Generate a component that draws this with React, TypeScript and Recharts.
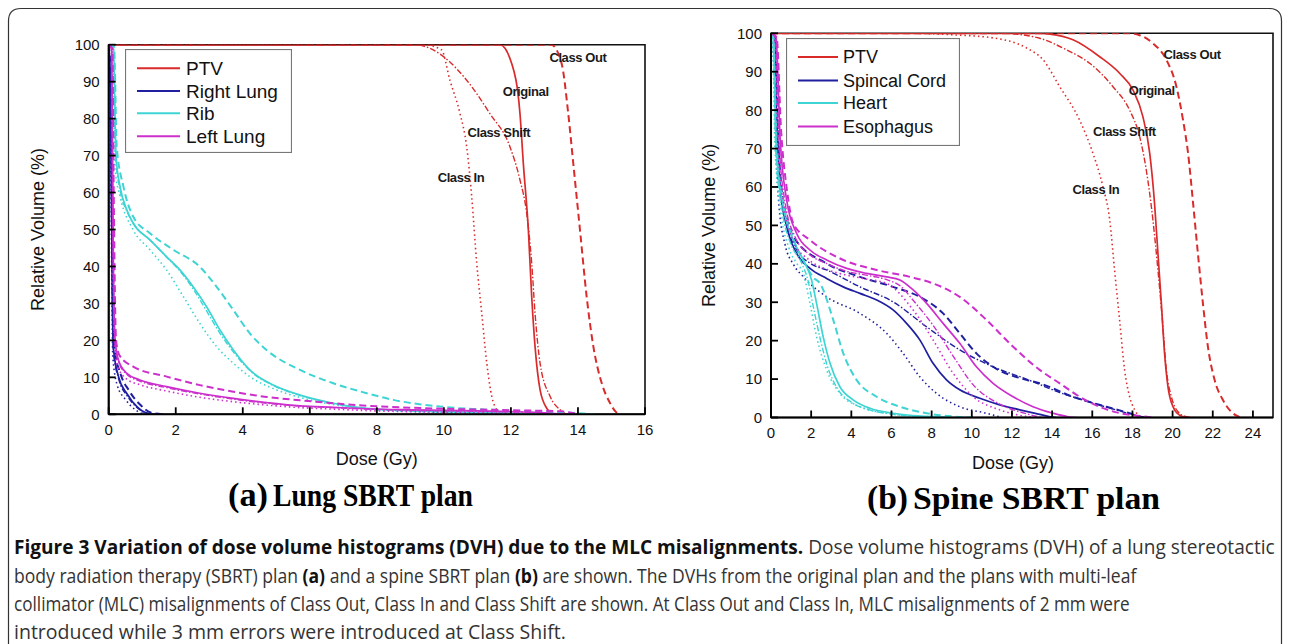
import React, { useLayoutEffect, useEffect, useRef, useState } from "react";
import { LineChart, Line, XAxis, YAxis, ReferenceArea, ReferenceDot, Legend } from "recharts";

type Pt = [number, number];

// ---------- (a) Lung SBRT plan: [dose Gy, relative volume %] ----------
const LUNG_PTV_ORIG: Pt[] = [[0, 100], [11.67, 100], [12.02, 95], [12.27, 81.4], [12.37, 67.9], [12.52, 49.9], [12.62, 31.8], [12.72, 18.3], [12.87, 6.6], [13.07, 1.6], [13.25, 0]];
const LUNG_PTV_OUT: Pt[] = [[0, 100], [13.2, 100], [13.51, 95], [13.71, 81.4], [13.86, 67.9], [14.06, 49.9], [14.26, 31.8], [14.46, 18.3], [14.71, 8.4], [14.96, 3], [15.15, 0.5], [15.3, 0]];
const LUNG_PTV_IN: Pt[] = [[0, 100], [9.4, 100], [9.93, 98.6], [10.18, 90.4], [10.48, 81.4], [10.68, 72.4], [10.83, 58.9], [10.98, 40.9], [11.13, 27.3], [11.28, 13.8], [11.43, 4.8], [11.58, 1.2], [11.75, 0]];
const LUNG_PTV_SHIFT: Pt[] = [[0, 100], [9.1, 100], [9.59, 99], [10.68, 90.4], [11.37, 81.4], [11.97, 72.4], [12.27, 63.4], [12.47, 54.4], [12.62, 40.9], [12.72, 27.3], [12.87, 13.8], [13.17, 4.8], [13.47, 1.2], [13.65, 0]];

const LUNG_RL_ORIG: Pt[] = [[0, 100], [0.05, 90], [0.08, 60], [0.11, 30], [0.14, 18], [0.3, 10], [0.55, 5.5], [0.85, 2], [1.15, 0.3], [1.4, 0]];
const LUNG_RL_OUT: Pt[] = [[0, 100], [0.07, 90], [0.1, 60], [0.13, 30], [0.17, 18], [0.35, 11], [0.6, 6.5], [0.95, 2.5], [1.25, 0.5], [1.6, 0]];
const LUNG_RL_IN: Pt[] = [[0, 100], [0.04, 90], [0.07, 60], [0.1, 30], [0.12, 16], [0.25, 8], [0.5, 4], [0.8, 1.2], [1.0, 0.2], [1.2, 0]];
const LUNG_RL_SHIFT: Pt[] = [[0, 100], [0.05, 90], [0.08, 60], [0.11, 30], [0.14, 17], [0.3, 9.5], [0.55, 5], [0.85, 1.8], [1.1, 0.3], [1.3, 0]];

const LUNG_RIB_ORIG: Pt[] = [[0, 100], [0.14, 99.5], [0.22, 69.7], [0.34, 61.6], [0.54, 55.3], [0.73, 51.7], [1.23, 47.2], [1.73, 42.6], [2.13, 39.0], [2.52, 34.5], [2.92, 29.1], [3.32, 22.8], [3.72, 17.4], [4.21, 12.0], [4.91, 7.9], [5.71, 5.2], [6.7, 3.0], [7.7, 1.6], [9, 1.0], [11, 0.5], [12.5, 0.2], [13, 0]];
const LUNG_RIB_OUT: Pt[] = [[0, 100], [0.16, 99.5], [0.24, 72.4], [0.44, 61.6], [0.73, 53.5], [1.23, 49.0], [1.93, 44.5], [2.72, 39.9], [3.22, 34.5], [3.72, 28.2], [4.21, 21.9], [4.71, 17.4], [5.71, 12.0], [6.7, 8.4], [7.7, 5.7], [8.49, 3.9], [10, 2.0], [12, 1.0], [14, 0.3], [14.5, 0]];
const LUNG_RIB_IN: Pt[] = [[0, 100], [0.12, 99.5], [0.19, 66.1], [0.34, 58.9], [0.73, 49.9], [1.23, 44.5], [1.73, 39.0], [2.23, 31.8], [2.72, 24.6], [3.22, 18.3], [3.72, 13.8], [4.21, 10.2], [5.01, 6.6], [6.0, 3.9], [7.2, 2.0], [9, 0.8], [11, 0.3], [12, 0]];
const LUNG_RIB_SHIFT: Pt[] = [[0, 100], [0.14, 99.5], [0.2, 70], [0.33, 61], [0.54, 55], [0.75, 51.5], [1.25, 47], [1.75, 42.3], [2.15, 38.5], [2.55, 33.5], [2.95, 27.5], [3.35, 21.5], [3.75, 16.5], [4.25, 11.5], [4.95, 7.6], [5.75, 5], [6.7, 2.9], [7.7, 1.5], [9, 0.9], [11, 0.4], [12.5, 0.1], [13, 0]];

const LUNG_LL_ORIG: Pt[] = [[0, 100], [0.09, 99], [0.12, 60], [0.19, 20.1], [0.29, 14.7], [0.54, 11.1], [0.93, 9.3], [1.73, 7.5], [2.72, 5.7], [3.72, 4.3], [4.71, 3.2], [5.71, 2.3], [6.7, 1.9], [7.7, 1.5], [9, 1.2], [11, 0.9], [12.5, 0.6], [13.7, 0]];
const LUNG_LL_OUT: Pt[] = [[0, 100], [0.11, 99], [0.15, 60], [0.22, 20], [0.32, 16], [0.73, 12.9], [1.73, 10.2], [2.72, 7.9], [3.72, 6.1], [4.71, 4.7], [5.71, 3.8], [6.7, 3.0], [7.7, 2.3], [9, 1.8], [10, 1.5], [12, 1.1], [13.5, 0.8], [14, 0]];
const LUNG_LL_IN: Pt[] = [[0, 100], [0.08, 99], [0.11, 60], [0.17, 20], [0.27, 13], [0.54, 9.5], [0.93, 8], [1.73, 6.3], [2.72, 4.6], [3.72, 3.4], [4.71, 2.5], [5.71, 1.8], [6.7, 1.4], [7.7, 1.0], [9, 0.7], [11, 0.4], [12, 0.2], [12.5, 0]];
const LUNG_LL_SHIFT: Pt[] = [[0, 100], [0.09, 99], [0.12, 60], [0.19, 19.5], [0.29, 14.3], [0.54, 10.8], [0.93, 9.0], [1.73, 7.2], [2.72, 5.5], [3.72, 4.1], [4.71, 3.0], [5.71, 2.2], [6.7, 1.8], [7.7, 1.4], [9, 1.1], [11, 0.8], [12.5, 0.5], [13.5, 0]];

// ---------- (b) Spine SBRT plan ----------
const SPINE_PTV_ORIG: Pt[] = [[0, 100], [13.4, 100], [13.9, 99.8], [15.04, 98.3], [16.37, 93.9], [17.36, 89.6], [18.03, 85.2], [18.52, 78.3], [18.86, 68.8], [19.1, 55.8], [19.27, 42.7], [19.44, 29.7], [19.6, 16.7], [19.77, 8], [20.02, 2.8], [20.35, 0.6], [20.7, 0]];
const SPINE_PTV_OUT: Pt[] = [[0, 100], [17.8, 100], [18.36, 99.5], [19.02, 97.4], [19.69, 93.1], [20.19, 86.1], [20.52, 77.4], [20.77, 68.8], [21.02, 55.8], [21.26, 42.7], [21.51, 29.7], [21.76, 18.4], [22.09, 9.8], [22.5, 4.6], [22.92, 1.5], [23.3, 0.2], [23.5, 0]];
const SPINE_PTV_IN: Pt[] = [[0, 100], [7.2, 100], [9.07, 99.6], [11.06, 98.8], [12.72, 96.2], [13.55, 93.1], [14.38, 86.1], [15.37, 77.4], [16.03, 68.8], [16.53, 60.1], [16.87, 51.4], [17.11, 38.4], [17.36, 25.4], [17.61, 12.4], [17.86, 5.4], [18.11, 2], [18.4, 0]];
const SPINE_PTV_SHIFT: Pt[] = [[0, 100], [11.5, 100], [13.38, 98.7], [14.71, 95.7], [15.87, 92.2], [17.03, 86.1], [17.86, 80.0], [18.36, 73.1], [18.69, 64.4], [19.02, 51.4], [19.27, 38.4], [19.49, 25.4], [19.69, 12.4], [19.94, 5.4], [20.27, 1.5], [20.7, 0.2], [21, 0]];

const SPINE_SC_ORIG: Pt[] = [[0, 100], [0.2, 99], [0.28, 77.4], [0.45, 60.1], [0.78, 49.7], [1.28, 42.7], [1.94, 38.8], [2.77, 36.2], [3.6, 34.0], [4.43, 32.3], [5.26, 30.6], [6.08, 28.0], [6.75, 24.5], [7.41, 20.2], [8.07, 14.1], [8.74, 9.8], [9.4, 7.2], [10.4, 5.0], [11.39, 3.3], [12.39, 2.0], [13.38, 0.8], [13.9, 0.2], [14.2, 0]];
const SPINE_SC_OUT: Pt[] = [[0, 100], [0.22, 99], [0.32, 78], [0.5, 61], [0.8, 51.5], [1.11, 47.1], [2.77, 40.1], [4.43, 36.6], [6.08, 34.0], [7.41, 31.4], [8.57, 27.1], [9.4, 21.9], [10.23, 16.7], [11.06, 13.2], [12.72, 9.8], [13.38, 8.9], [15.04, 5.4], [16.7, 2.8], [17.86, 1.1], [18.4, 0.2], [18.6, 0]];
const SPINE_SC_IN: Pt[] = [[0, 100], [0.15, 90], [0.25, 70], [0.4, 55], [0.7, 45], [1.1, 40], [1.61, 36.6], [2.77, 31.4], [4.43, 27.1], [5.76, 21.9], [6.58, 16.7], [7.41, 10.6], [8.24, 6.3], [9.4, 2.8], [10.73, 1.1], [11.5, 0]];
const SPINE_SC_SHIFT: Pt[] = [[0, 100], [0.2, 99], [0.3, 77], [0.47, 60], [0.8, 50], [1.3, 43.5], [2.0, 40], [2.77, 38.4], [4.43, 34.0], [6.08, 30.1], [7.75, 23.6], [9.4, 17.6], [11.06, 13.2], [12.72, 10.0], [14.38, 6.5], [16, 3.8], [17.3, 1.8], [18.2, 0.5], [18.6, 0]];

const SPINE_HT_ORIG: Pt[] = [[0, 100], [0.1, 99], [0.28, 68.8], [0.61, 54.9], [1.11, 46.2], [1.61, 41.0], [2.02, 35.8], [2.27, 29.7], [2.6, 21.0], [2.94, 14.1], [3.43, 8.0], [4.09, 4.6], [4.93, 2.4], [6.08, 1.1], [7.75, 0.3], [9, 0]];
const SPINE_HT_OUT: Pt[] = [[0, 100], [0.12, 99], [0.3, 70], [0.65, 55], [1.15, 46], [1.7, 40], [2.1, 36.5], [2.44, 34.9], [3.1, 25.4], [3.6, 16.7], [4.26, 9.8], [5.26, 5.4], [6.42, 2.8], [7.75, 1.1], [9, 0.3], [10, 0]];
const SPINE_HT_IN: Pt[] = [[0, 100], [0.08, 99], [0.2, 70], [0.5, 53], [0.9, 44], [1.3, 40], [1.61, 37.5], [1.94, 29.7], [2.27, 21.0], [2.77, 12.4], [3.43, 6.3], [4.43, 2.8], [5.76, 1.1], [7, 0.3], [8, 0]];
const SPINE_HT_SHIFT: Pt[] = [[0, 100], [0.09, 99], [0.24, 69], [0.55, 54], [1.0, 45], [1.5, 40.5], [1.85, 35.5], [2.1, 29], [2.45, 20.5], [2.8, 13.5], [3.3, 7.6], [4.0, 4.0], [4.9, 2.0], [6.0, 0.9], [7.5, 0.2], [8.5, 0]];

const SPINE_ES_ORIG: Pt[] = [[0, 100], [0.25, 99], [0.45, 73.1], [0.78, 56.6], [1.28, 47.9], [1.94, 43.6], [2.77, 41.0], [3.77, 38.8], [4.76, 37.5], [5.76, 36.6], [6.42, 35.8], [7.08, 33.2], [7.75, 29.7], [8.57, 24.5], [9.4, 19.3], [10.23, 13.2], [11.06, 8.9], [12.06, 5.4], [13.05, 2.8], [14.05, 1.1], [14.8, 0.2], [15.2, 0]];
const SPINE_ES_OUT: Pt[] = [[0, 100], [0.28, 99], [0.5, 75], [0.8, 59], [1.11, 50.5], [1.94, 46.2], [3.6, 41.0], [5.26, 38.4], [6.92, 36.6], [8.07, 34.9], [9.4, 31.4], [10.73, 25.4], [12.06, 18.4], [13.38, 12.4], [14.38, 8.9], [15.5, 5], [16.5, 2.5], [17.5, 1], [18.5, 0.3], [19, 0]];
const SPINE_ES_IN: Pt[] = [[0, 100], [0.2, 99], [0.35, 70], [0.65, 55], [1.1, 46], [1.9, 41], [2.8, 38.5], [3.8, 37], [4.8, 36], [5.76, 34.9], [7.08, 28.0], [8.07, 20.2], [9.07, 11.5], [10.07, 5.4], [11.39, 2.0], [12.7, 0.3], [13.3, 0]];
const SPINE_ES_SHIFT: Pt[] = [[0, 100], [0.22, 99], [0.4, 72], [0.7, 56], [1.2, 47], [1.9, 42.5], [2.8, 40], [3.8, 38], [4.8, 37], [5.8, 35.8], [6.5, 34.0], [7.08, 30.5], [8.07, 24], [9.07, 16], [10.07, 8.5], [11.39, 3.5], [12.7, 1], [13.5, 0]];

// series order inside each structure: Original, Class Out, Class In, Class Shift
const LUNG_SERIES: Pt[][][] = [
  [LUNG_PTV_ORIG, LUNG_PTV_OUT, LUNG_PTV_IN, LUNG_PTV_SHIFT],
  [LUNG_RL_ORIG, LUNG_RL_OUT, LUNG_RL_IN, LUNG_RL_SHIFT],
  [LUNG_RIB_ORIG, LUNG_RIB_OUT, LUNG_RIB_IN, LUNG_RIB_SHIFT],
  [LUNG_LL_ORIG, LUNG_LL_OUT, LUNG_LL_IN, LUNG_LL_SHIFT],
];
const SPINE_SERIES: Pt[][][] = [
  [SPINE_PTV_ORIG, SPINE_PTV_OUT, SPINE_PTV_IN, SPINE_PTV_SHIFT],
  [SPINE_SC_ORIG, SPINE_SC_OUT, SPINE_SC_IN, SPINE_SC_SHIFT],
  [SPINE_HT_ORIG, SPINE_HT_OUT, SPINE_HT_IN, SPINE_HT_SHIFT],
  [SPINE_ES_ORIG, SPINE_ES_OUT, SPINE_ES_IN, SPINE_ES_SHIFT],
];

const LUNG_NAMES = ["PTV", "Right Lung", "Rib", "Left Lung"];
const SPINE_NAMES = ["PTV", "Spincal Cord", "Heart", "Esophagus"];
const STRUCT_COLORS = ["#d92b2b", "#1f1fa0", "#3fd4d4", "#cc2fcc"];

const LUNG_X_TICKS = [0, 2, 4, 6, 8, 10, 12, 14, 16];
const SPINE_X_TICKS = [0, 2, 4, 6, 8, 10, 12, 14, 16, 18, 20, 22, 24];
const Y_TICKS = [0, 10, 20, 30, 40, 50, 60, 70, 80, 90, 100];

const CLASS_LABELS = ["Class Out", "Original", "Class Shift", "Class In"];
const LUNG_LABEL_DOSE = [14.0, 12.44, 11.64, 10.51];
const LUNG_LABEL_VOL = [96.6, 87.3, 76.3, 64.1];
const SPINE_LABEL_DOSE = [20.97, 18.96, 17.6, 16.18];
const SPINE_LABEL_VOL = [94.4, 85.2, 74.6, 59.5];

// caption, line by line: pieces of [text, bold]
const CAPTION_LINES: [string, boolean][][] = [
  [
    ["Figure 3 Variation of dose volume histograms (DVH) due to the MLC misalignments.", true],
    [" Dose volume histograms (DVH) of a lung stereotactic", false],
  ],
  [
    ["body radiation therapy (SBRT) plan ", false],
    ["(a)", true],
    [" and a spine SBRT plan ", false],
    ["(b)", true],
    [" are shown. The DVHs from the original plan and the plans with multi-leaf", false],
  ],
  [["collimator (MLC) misalignments of Class Out, Class In and Class Shift are shown. At Class Out and Class In, MLC misalignments of 2 mm were", false]],
  [["introduced while 3 mm errors were introduced at Class Shift.", false]],
];
const CAPTION_WIDTHS = [1261, 1122, 1116, 552];
const CAPTION_BASELINES = [554, 583, 611, 639];

const VARIANTS = [
  { key: "orig", dash: undefined as string | undefined, width: 1.7 },
  { key: "out", dash: "7 4", width: 2 },
  { key: "in", dash: "1.5 3", width: 1.6 },
  { key: "shift", dash: "6 2 1.5 2", width: 1.4 },
];

const FONT = "'Liberation Sans', Arial, Helvetica, sans-serif";
const SERIF = "'Liberation Serif', 'Times New Roman', serif";
const TICK_GAP = 9;
const TICK_LEN = 7;

const toRows = (pts: Pt[]) => pts.map(([d, v]) => ({ d, v }));

function XTick(props: any) {
  const { x, y, payload } = props;
  const ay = y - TICK_GAP;
  return (
    <g>
      <line x1={x} x2={x} y1={ay} y2={ay - TICK_LEN} stroke="#000" strokeWidth={1.8} />
      <text x={x} y={y} dy="0.78em" textAnchor="middle" fontFamily={FONT} fontSize={15} fill="#111">
        {payload.value}
      </text>
    </g>
  );
}

function YTick(props: any) {
  const { x, y, payload } = props;
  const ax = x + TICK_GAP;
  return (
    <g>
      <line x1={ax} x2={ax + TICK_LEN} y1={y} y2={y} stroke="#000" strokeWidth={1.8} />
      <text x={x} y={y} dy="0.36em" textAnchor="end" fontFamily={FONT} fontSize={15} fill="#111">
        {payload.value}
      </text>
    </g>
  );
}

function LegendBox({ names, w, h, fontSize, lineEnd, textX, rows }: any) {
  return (
    <svg width={w} height={h} style={{ display: "block" }}>
      <rect x={0.5} y={0.5} width={w - 1} height={h - 1} fill="#fff" stroke="#777" strokeWidth={1.2} />
      {names.map((n: string, i: number) => (
        <g key={n}>
          <line x1={12} x2={lineEnd} y1={rows[i]} y2={rows[i]} stroke={STRUCT_COLORS[i]} strokeWidth={2} />
          <text x={textX} y={rows[i]} dy="0.36em" fontFamily={FONT} fontSize={fontSize} fill="#111">
            {n}
          </text>
        </g>
      ))}
    </svg>
  );
}

function DvhChart(p: any) {
  return (
    <div style={{ position: "absolute", left: p.left, top: p.top }}>
      <LineChart width={p.width} height={480} margin={p.margin}>
        <XAxis
          type="number"
          dataKey="d"
          domain={[0, p.xMax]}
          ticks={p.xTicks}
          interval={0}
          allowDataOverflow
          height={40}
          tickSize={0}
          tickMargin={TICK_GAP}
          tickLine={false}
          tick={<XTick />}
          axisLine={{ stroke: "#000", strokeWidth: 2 }}
          label={(lp: any) => {
            const vb = lp.viewBox;
            return (
              <text x={vb.x + vb.width / 2 + p.xTitleDx} y={vb.y + p.xTitleDy} dy="0.36em" textAnchor="middle" fontFamily={FONT} fontSize={18} fill="#111">
                Dose (Gy)
              </text>
            );
          }}
        />
        <YAxis
          type="number"
          domain={[0, 100]}
          ticks={Y_TICKS}
          interval={0}
          allowDataOverflow
          width={50}
          tickSize={0}
          tickMargin={TICK_GAP}
          tickLine={false}
          tick={<YTick />}
          axisLine={{ stroke: "#000", strokeWidth: 2 }}
          label={(lp: any) => {
            const vb = lp.viewBox;
            const cx = vb.x + vb.width - p.yTitleDx;
            const cy = vb.y + vb.height / 2;
            return (
              <text x={cx} y={cy} dy="0.36em" transform={`rotate(-90 ${cx} ${cy})`} textAnchor="middle" fontFamily={FONT} fontSize={18} fill="#111">
                Relative Volume (%)
              </text>
            );
          }}
        />
        <ReferenceArea x1={0} x2={p.xMax} y1={0} y2={100} fill="none" fillOpacity={0} stroke="#111" strokeWidth={1.6} />
        {p.series.map((group: Pt[][], si: number) =>
          group.map((pts: Pt[], vi: number) => (
            <Line
              key={`${si}-${vi}`}
              data={toRows(pts)}
              dataKey="v"
              type="monotone"
              stroke={STRUCT_COLORS[si]}
              strokeWidth={VARIANTS[vi].width}
              strokeDasharray={VARIANTS[vi].dash}
              dot={false}
              activeDot={false}
              legendType="none"
              isAnimationActive={false}
            />
          ))
        )}
        {CLASS_LABELS.map((t, i) => (
          <ReferenceDot
            key={t}
            x={p.labelDose[i]}
            y={p.labelVol[i]}
            r={0}
            fill="none"
            stroke="none"
            label={{ value: t, position: "center", fontSize: 13, fontWeight: 700, fill: "#1a1a1a", fontFamily: FONT, letterSpacing: -0.4 }}
          />
        ))}
        <Legend
          layout="horizontal"
          verticalAlign="middle"
          align="center"
          wrapperStyle={{ left: p.legend.x, top: p.legend.y, width: "auto", height: "auto" }}
          content={() => <LegendBox names={p.names} {...p.legend} />}
        />
      </LineChart>
    </div>
  );
}

// caption lines are set in Open Sans, then squeezed horizontally to the width of the condensed original
function Caption() {
  const refs = useRef<(SVGTextElement | null)[]>([]);
  const [scales, setScales] = useState<number[]>(CAPTION_WIDTHS.map(() => 1));
  const measure = () => {
    setScales(
      CAPTION_WIDTHS.map((w, i) => {
        const el = refs.current[i];
        const nat = el ? el.getComputedTextLength() : 0;
        return nat > 0 ? w / nat : 1;
      })
    );
  };
  useLayoutEffect(measure, []);
  useEffect(() => {
    const f = (document as any).fonts;
    if (f && f.ready) f.ready.then(measure);
  }, []);
  return (
    <g fontFamily="'Open Sans', 'Liberation Sans', sans-serif" fontSize={20}>
      {CAPTION_LINES.map((line, li) => (
        <text
          key={li}
          ref={(el) => {
            refs.current[li] = el;
          }}
          x={0}
          y={0}
          transform={`translate(14 ${CAPTION_BASELINES[li]}) scale(${scales[li]} 1)`}
          fill="#333"
        >
          {line.map(([t, bold], pi) => (
            <tspan key={pi} fontWeight={bold ? 700 : 400} fill={bold ? "#111" : "#333"}>
              {t}
            </tspan>
          ))}
        </text>
      ))}
    </g>
  );
}

export default function App() {
  return (
    <div style={{ position: "relative", width: 1290, height: 644, overflow: "hidden", background: "#fff" }}>
      <style>{"html,body{margin:0;padding:0;overflow:hidden;}"}</style>
      <svg width={1290} height={644} style={{ position: "absolute", left: 0, top: 0, pointerEvents: "none" }}>
        <path d="M8.5 644 V21 Q8.5 8.5 21 8.5 H1269 Q1281.5 8.5 1281.5 21 V644" fill="none" stroke="#333" strokeWidth={1.2} />
        <text x={228} y={506} fontFamily={SERIF} fontWeight={700} fontSize={34} textLength={40} lengthAdjust="spacingAndGlyphs" fill="#000">(a)</text>
        <text x={273} y={506} fontFamily={SERIF} fontWeight={700} fontSize={31} textLength={200} lengthAdjust="spacingAndGlyphs" fill="#000">Lung SBRT plan</text>
        <text x={867} y={509} fontFamily={SERIF} fontWeight={700} fontSize={34} textLength={41} lengthAdjust="spacingAndGlyphs" fill="#000">(b)</text>
        <text x={913} y={509} fontFamily={SERIF} fontWeight={700} fontSize={31} textLength={247} lengthAdjust="spacingAndGlyphs" fill="#000">Spine SBRT plan</text>
        <Caption />
      </svg>
      <DvhChart
        left={8}
        top={8}
        width={652}
        margin={{ top: 36.7, right: 15, bottom: 33.7, left: 50.7 }}
        xMax={16}
        xTicks={LUNG_X_TICKS}
        series={LUNG_SERIES}
        names={LUNG_NAMES}
        labelDose={LUNG_LABEL_DOSE}
        labelVol={LUNG_LABEL_VOL}
        xTitleDx={0}
        xTitleDy={44}
        yTitleDx={70.7}
        legend={{ x: 116.5, y: 41, w: 167, h: 104, fontSize: 19, lineEnd: 55, textX: 61, rows: [19.3, 42, 64.3, 87.3] }}
      />
      <DvhChart
        left={660}
        top={8}
        width={622}
        margin={{ top: 25.3, right: 9, bottom: 30.5, left: 61 }}
        xMax={25}
        xTicks={SPINE_X_TICKS}
        series={SPINE_SERIES}
        names={SPINE_NAMES}
        labelDose={SPINE_LABEL_DOSE}
        labelVol={SPINE_LABEL_VOL}
        xTitleDx={-9}
        xTitleDy={45.5}
        yTitleDx={62}
        legend={{ x: 126, y: 30.3, w: 174, h: 108, fontSize: 18, lineEnd: 52, textX: 57, rows: [19, 42.4, 65, 88.4] }}
      />
    </div>
  );
}
